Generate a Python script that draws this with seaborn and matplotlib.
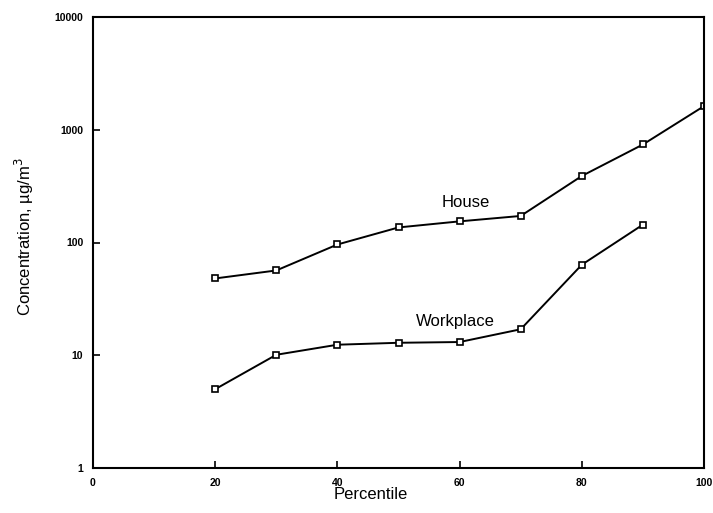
import numpy as np
import pandas as pd
import matplotlib
matplotlib.use("Agg")
import matplotlib.pyplot as plt
import matplotlib.ticker as mticker
import seaborn as sns

# ---- data ----
house_percentile = [20, 30, 40, 50, 60, 70, 80, 90, 100]
house_conc = [48, 56.5, 96, 136, 154, 172, 389, 740, 1620]
work_percentile = [20, 30, 40, 50, 60, 70, 80, 90]
work_conc = [5.0, 10.1, 12.4, 12.9, 13.1, 17.0, 63.5, 144]

series_labels = ["House", "Workplace"]
y_ticks = [1, 10, 100, 1000, 10000]
y_tick_labels = ["1", "10", "100", "1000", "10000"]
x_ticks = [0, 20, 40, 60, 80, 100]
x_tick_labels = ["0", "20", "40", "60", "80", "100"]

df = pd.concat([
    pd.DataFrame({"Percentile": house_percentile, "Concentration": house_conc,
                  "Series": series_labels[0]}),
    pd.DataFrame({"Percentile": work_percentile, "Concentration": work_conc,
                  "Series": series_labels[1]}),
], ignore_index=True)

sns.set_style("ticks")
plt.rcParams["font.family"] = ["Liberation Sans", "DejaVu Sans"]
plt.rcParams["text.color"] = "black"
plt.rcParams["axes.labelcolor"] = "black"

fig = plt.figure(figsize=(7.13, 5.13), dpi=100)
ax = fig.add_axes([93 / 713, 1 - 468 / 513, 611 / 713, 451 / 513])

sns.lineplot(data=df, x="Percentile", y="Concentration", hue="Series",
             palette=["black", "black"], estimator=None, sort=True,
             marker="s", markersize=5, markerfacecolor="white",
             markeredgecolor="black", markeredgewidth=1.2,
             linewidth=1.4, legend=False, ax=ax)

ax.set_yscale("log")
ax.set_xlim(0, 100)
ax.set_ylim(1, 10000)
ax.set_yticks(y_ticks)
ax.yaxis.set_major_formatter(mticker.FixedFormatter(y_tick_labels))
ax.yaxis.set_minor_locator(mticker.NullLocator())
ax.set_xticks(x_ticks)
ax.set_xticklabels(x_tick_labels)

for s in ax.spines.values():
    s.set_visible(True)
    s.set_linewidth(1.5)
    s.set_color("black")

ax.tick_params(axis="both", which="major", direction="in", length=5,
               width=1.2, labelsize=7.5, pad=7, colors="black")
for lab in ax.get_xticklabels() + ax.get_yticklabels():
    lab.set_fontweight("bold")

ax.set_xlabel("Percentile", fontsize=12, color="black")
ax.set_ylabel("Concentration, \u00b5g/m$^3$", fontsize=12, color="black")
ax.xaxis.set_label_coords(0.455, -0.042)
ax.yaxis.set_label_coords(-0.093, 0.512)

ax.text(61, 227, series_labels[0], fontsize=12, ha="center", va="center",
        color="black")
ax.text(59.3, 19.9, series_labels[1], fontsize=12, ha="center", va="center",
        color="black")

fig.savefig("out.png", dpi=100)
